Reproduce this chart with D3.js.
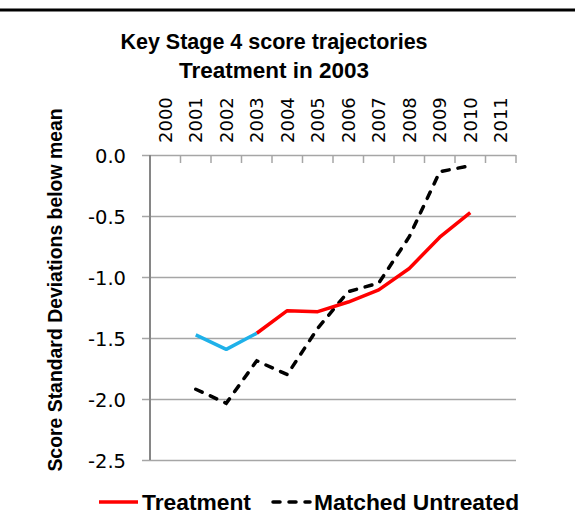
<!DOCTYPE html>
<html>
<head>
<meta charset="utf-8">
<script src="https://cdn.jsdelivr.net/npm/d3@7"></script>
<style>
  body { margin: 0; background: #fff; }
  svg { display: block; }
  .tick-label { font-family: "DejaVu Sans", sans-serif; fill: #000; }
  .bold { font-family: "Liberation Sans", Arial, sans-serif; font-weight: bold; fill: #000; }
</style>
</head>
<body>
<svg id="chart" width="575" height="525"></svg>
<script>
"use strict";

// values
var years = [2000, 2001, 2002, 2003, 2004, 2005, 2006, 2007, 2008, 2009, 2010, 2011];
var treatment = [null, -1.475, -1.593, -1.461, -1.276, -1.284, -1.205, -1.105, -0.93, -0.674, -0.472, null];
var matched = [null, -1.92, -2.035, -1.687, -1.80, -1.42, -1.12, -1.05, -0.67, -0.137, -0.088, null];
var treatYear = 2003;
var yTicks = [0, -0.5, -1.0, -1.5, -2.0, -2.5];
var titleLines = ["Key Stage 4 score trajectories", "Treatment in 2003"];
var yTitle = "Score Standard Deviations below mean";
var legendNames = ["Treatment", "Matched Untreated"];

function draw() {
    var svg = d3.select("#chart");

    // frame line at the top of the picture
    svg.append("line")
        .attr("x1", 0).attr("x2", 575)
        .attr("y1", 10).attr("y2", 10)
        .style("stroke", "#000").style("stroke-width", 3);

    var pLeft = 150, pRight = 516, pTop = 155, pBottom = 460;
    var x = d3.scaleBand().domain(years).range([pLeft, pRight]);
    var y = d3.scaleLinear().domain([-2.5, 0]).range([pBottom, pTop]);
    var cx = function (yr) { return x(yr) + x.bandwidth() / 2; };

    // gridlines, sticking out 8px on the left like Excel's tick marks
    var grid = d3.axisRight(y).tickValues(yTicks).tickSize(pRight - pLeft + 8).tickFormat("");
    svg.append("g").attr("class", "grid")
        .attr("transform", "translate(" + (pLeft - 8) + ",0)")
        .call(grid)
        .call(function (g) { g.select(".domain").remove(); })
        .selectAll("line").style("stroke", "#a6a6a6").style("stroke-width", 1.5);

    // y labels (plain hyphen, as in the original)
    var yAxis = d3.axisLeft(y).tickValues(yTicks).tickSize(0).tickPadding(24)
        .tickFormat(function (d) { return d.toFixed(1); });
    svg.append("g")
        .attr("transform", "translate(" + pLeft + ",0)")
        .call(yAxis)
        .call(function (g) { g.select(".domain").remove(); })
        .selectAll("text")
        .attr("class", "tick-label")
        .style("font-size", "19.5px")
        .attr("dy", "0.4em");

    // category boundary ticks hanging from the top line
    svg.append("g").selectAll("line")
        .data(years)
        .join("line")
        .attr("x1", function (d) { return x(d) + x.bandwidth(); })
        .attr("x2", function (d) { return x(d) + x.bandwidth(); })
        .attr("y1", pTop).attr("y2", pTop + 8)
        .style("stroke", "#a6a6a6").style("stroke-width", 1.5);

    // vertical axis line
    svg.append("line")
        .attr("x1", pLeft).attr("x2", pLeft)
        .attr("y1", pTop).attr("y2", pBottom)
        .style("stroke", "#868686").style("stroke-width", 2);

    // year labels on top, rotated
    var xAxis = d3.axisTop(x).tickSize(0).tickPadding(0);
    svg.append("g")
        .attr("transform", "translate(0," + pTop + ")")
        .call(xAxis)
        .call(function (g) { g.select(".domain").remove(); })
        .selectAll("text")
        .attr("class", "tick-label")
        .style("font-size", "18px")
        .attr("text-anchor", "start")
        .attr("transform", "translate(0,-12) rotate(-90)")
        .attr("x", 0).attr("y", 0)
        .attr("dy", "0.36em");

    // lines
    var line = d3.line()
        .defined(function (d) { return d.v !== null; })
        .x(function (d) { return cx(d.year); })
        .y(function (d) { return y(d.v); });

    var treatData = years.map(function (yr, i) { return { year: yr, v: treatment[i] }; });
    var matchData = years.map(function (yr, i) { return { year: yr, v: matched[i] }; });

    svg.append("path")
        .datum(matchData)
        .attr("d", line)
        .style("fill", "none").style("stroke", "#000")
        .style("stroke-width", 3.5).style("stroke-dasharray", "7,9")
        .style("stroke-linecap", "round");

    svg.append("path")
        .datum(treatData.filter(function (d) { return d.year >= treatYear; }))
        .attr("d", line)
        .style("fill", "none").style("stroke", "#ff0000")
        .style("stroke-width", 3.5).style("stroke-linejoin", "round");

    svg.append("path")
        .datum(treatData.filter(function (d) { return d.year <= treatYear; }))
        .attr("d", line)
        .style("fill", "none").style("stroke", "#1fb1e9")
        .style("stroke-width", 3.5).style("stroke-linejoin", "round");

    // titles
    svg.append("g").selectAll("text")
        .data(titleLines)
        .join("text")
        .attr("class", "bold")
        .attr("x", 274)
        .attr("y", function (d, i) { return 49 + i * 29; })
        .attr("text-anchor", "middle")
        .style("font-size", function (d, i) { return i === 0 ? "21.5px" : "22.5px"; })
        .text(function (d) { return d; });

    svg.append("text")
        .attr("class", "bold")
        .attr("transform", "translate(62,290) rotate(-90)")
        .attr("text-anchor", "middle")
        .style("font-size", "19.4px")
        .text(yTitle);

    // legend
    var legendY = 502;
    var lg = svg.append("g");
    lg.append("line")
        .attr("x1", 99).attr("x2", 138).attr("y1", legendY).attr("y2", legendY)
        .style("stroke", "#ff0000").style("stroke-width", 3.5);
    lg.append("text").attr("class", "bold")
        .attr("x", 142).attr("y", legendY + 8)
        .style("font-size", "22.8px").text(legendNames[0]);
    lg.append("line")
        .attr("x1", 273).attr("x2", 310).attr("y1", legendY).attr("y2", legendY)
        .style("stroke", "#000").style("stroke-width", 3.5)
        .style("stroke-dasharray", "7,9").style("stroke-linecap", "round");
    lg.append("text").attr("class", "bold")
        .attr("x", 314).attr("y", legendY + 8)
        .style("font-size", "22.8px").text(legendNames[1]);
}

draw();
</script>
</body>
</html>
